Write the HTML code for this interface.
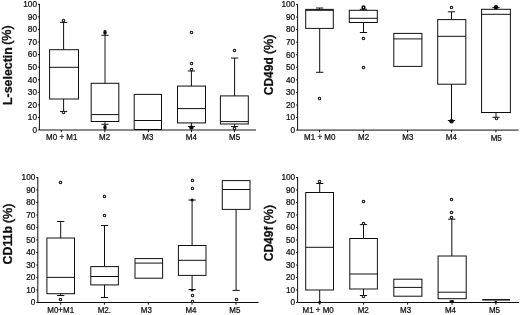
<!DOCTYPE html>
<html><head><meta charset="utf-8"><title>Box plots</title>
<style>
html,body{margin:0;padding:0;background:#fff;}
body{width:520px;height:315px;overflow:hidden;font-family:"Liberation Sans",sans-serif;}
svg{display:block;}
text{font-family:"Liberation Sans",sans-serif;fill:#111;stroke:#111;stroke-width:0.25px;}
.tk{font-size:8.9px;}
.xl{font-size:8.5px;}
.ti{font-size:12.4px;font-weight:bold;}
.ti2{font-size:12.5px;stroke-width:0.5px;}
</style></head><body>
<svg width="520" height="315" viewBox="0 0 520 315">
<defs><filter id="bl" x="0" y="0" width="520" height="315" filterUnits="userSpaceOnUse"><feGaussianBlur stdDeviation="0.35"/></filter></defs>
<rect width="520" height="315" fill="#fff"/>
<g filter="url(#bl)">
<path d="M39.4 3.8V130H256" fill="none" stroke="#111" stroke-width="1.0"/>
<path d="M37.9 130H39.4" stroke="#111" stroke-width="1.0"/>
<text transform="translate(37 132.8) scale(0.93 1)" text-anchor="end" class="tk">0</text>
<path d="M37.9 117.43H39.4" stroke="#111" stroke-width="1.0"/>
<text transform="translate(37 120.23) scale(0.93 1)" text-anchor="end" class="tk">10</text>
<path d="M37.9 104.86H39.4" stroke="#111" stroke-width="1.0"/>
<text transform="translate(37 107.66) scale(0.93 1)" text-anchor="end" class="tk">20</text>
<path d="M37.9 92.29H39.4" stroke="#111" stroke-width="1.0"/>
<text transform="translate(37 95.09) scale(0.93 1)" text-anchor="end" class="tk">30</text>
<path d="M37.9 79.72H39.4" stroke="#111" stroke-width="1.0"/>
<text transform="translate(37 82.52) scale(0.93 1)" text-anchor="end" class="tk">40</text>
<path d="M37.9 67.15H39.4" stroke="#111" stroke-width="1.0"/>
<text transform="translate(37 69.95) scale(0.93 1)" text-anchor="end" class="tk">50</text>
<path d="M37.9 54.58H39.4" stroke="#111" stroke-width="1.0"/>
<text transform="translate(37 57.38) scale(0.93 1)" text-anchor="end" class="tk">60</text>
<path d="M37.9 42.01H39.4" stroke="#111" stroke-width="1.0"/>
<text transform="translate(37 44.81) scale(0.93 1)" text-anchor="end" class="tk">70</text>
<path d="M37.9 29.44H39.4" stroke="#111" stroke-width="1.0"/>
<text transform="translate(37 32.24) scale(0.93 1)" text-anchor="end" class="tk">80</text>
<path d="M37.9 16.87H39.4" stroke="#111" stroke-width="1.0"/>
<text transform="translate(37 19.67) scale(0.93 1)" text-anchor="end" class="tk">90</text>
<path d="M37.9 4.3H39.4" stroke="#111" stroke-width="1.0"/>
<text transform="translate(37 7.1) scale(0.93 1)" text-anchor="end" class="tk">100</text>
<path d="M61.3 130V132.2" stroke="#111" stroke-width="1.0"/>
<path d="M104.8 130V132.2" stroke="#111" stroke-width="1.0"/>
<path d="M148.4 130V132.2" stroke="#111" stroke-width="1.0"/>
<path d="M191.5 130V132.2" stroke="#111" stroke-width="1.0"/>
<path d="M234.4 130V132.2" stroke="#111" stroke-width="1.0"/>
<text transform="translate(11.5 105) rotate(-90) scale(1.0 1)" class="ti">L-selectin</text>
<text transform="translate(11.0 44.8) rotate(-90) scale(1.0 1)" class="ti2">(%)</text>
<text transform="translate(61.7 139.7) scale(0.94 1)" text-anchor="middle" class="xl">M0 + M1</text>
<text transform="translate(104.6 139.7) scale(0.94 1)" text-anchor="middle" class="xl">M2</text>
<text transform="translate(147.8 139.7) scale(0.94 1)" text-anchor="middle" class="xl">M3</text>
<text transform="translate(191.4 139.7) scale(0.94 1)" text-anchor="middle" class="xl">M4</text>
<text transform="translate(234.6 139.7) scale(0.94 1)" text-anchor="middle" class="xl">M5</text>
<rect x="49.6" y="49.7" width="28.9" height="49.3" fill="#fff" stroke="#111" stroke-width="1.0"/>
<path d="M49.6 67.3H78.5" stroke="#111" stroke-width="1.0"/>
<path d="M63.6 49.7V22.4M60 22.4H67.2" stroke="#111" stroke-width="1.0" fill="none"/>
<path d="M63.6 99V111.4M60 111.4H67.2" stroke="#111" stroke-width="1.0" fill="none"/>
<circle cx="63.5" cy="20.5" r="1.25" fill="#fff" stroke="#111" stroke-width="1.05"/>
<circle cx="63.5" cy="112.5" r="1.25" fill="#fff" stroke="#111" stroke-width="1.05"/>
<rect x="91.2" y="83.3" width="27.6" height="38.2" fill="#fff" stroke="#111" stroke-width="1.0"/>
<path d="M91.2 114.6H118.8" stroke="#111" stroke-width="1.0"/>
<path d="M105 83.3V35.3M101.4 35.3H108.6" stroke="#111" stroke-width="1.0" fill="none"/>
<path d="M105 121.5V124.3M101.4 124.3H108.6" stroke="#111" stroke-width="1.0" fill="none"/>
<ellipse cx="105" cy="32.5" rx="1.7" ry="2.4" fill="#111"/>
<ellipse cx="105" cy="127.3" rx="1.6" ry="2.6" fill="#111"/>
<rect x="134.2" y="94.4" width="27.3" height="35.1" fill="#fff" stroke="#111" stroke-width="1.0"/>
<path d="M134.2 120.5H161.5" stroke="#111" stroke-width="1.0"/>
<rect x="177.5" y="86.1" width="28" height="36.8" fill="#fff" stroke="#111" stroke-width="1.0"/>
<path d="M177.5 108.6H205.5" stroke="#111" stroke-width="1.0"/>
<path d="M191.4 86.1V71M187.8 71H195" stroke="#111" stroke-width="1.0" fill="none"/>
<path d="M191.4 122.9V126.5M187.8 126.5H195" stroke="#111" stroke-width="1.0" fill="none"/>
<circle cx="191.5" cy="32.5" r="1.25" fill="#fff" stroke="#111" stroke-width="1.05"/>
<circle cx="191.5" cy="63.5" r="1.25" fill="#fff" stroke="#111" stroke-width="1.05"/>
<circle cx="191.5" cy="69.5" r="1.25" fill="#fff" stroke="#111" stroke-width="1.05"/>
<ellipse cx="191.4" cy="127.6" rx="2.2" ry="2.2" fill="#111"/>
<rect x="220.4" y="95.9" width="27.9" height="28.1" fill="#fff" stroke="#111" stroke-width="1.0"/>
<path d="M220.4 121.6H248.3" stroke="#111" stroke-width="1.0"/>
<path d="M234.6 95.9V58.1M231 58.1H238.2" stroke="#111" stroke-width="1.0" fill="none"/>
<path d="M234.6 124V126.6M231 126.6H238.2" stroke="#111" stroke-width="1.0" fill="none"/>
<circle cx="234.5" cy="50.5" r="1.25" fill="#fff" stroke="#111" stroke-width="1.05"/>
<circle cx="234.5" cy="128.5" r="1.25" fill="#fff" stroke="#111" stroke-width="1.05"/>
<path d="M297.6 4V130.1H518.5" fill="none" stroke="#111" stroke-width="1.0"/>
<path d="M296.1 130.1H297.6" stroke="#111" stroke-width="1.0"/>
<text transform="translate(295.2 132.9) scale(0.93 1)" text-anchor="end" class="tk">0</text>
<path d="M296.1 117.54H297.6" stroke="#111" stroke-width="1.0"/>
<text transform="translate(295.2 120.34) scale(0.93 1)" text-anchor="end" class="tk">10</text>
<path d="M296.1 104.98H297.6" stroke="#111" stroke-width="1.0"/>
<text transform="translate(295.2 107.78) scale(0.93 1)" text-anchor="end" class="tk">20</text>
<path d="M296.1 92.42H297.6" stroke="#111" stroke-width="1.0"/>
<text transform="translate(295.2 95.22) scale(0.93 1)" text-anchor="end" class="tk">30</text>
<path d="M296.1 79.86H297.6" stroke="#111" stroke-width="1.0"/>
<text transform="translate(295.2 82.66) scale(0.93 1)" text-anchor="end" class="tk">40</text>
<path d="M296.1 67.3H297.6" stroke="#111" stroke-width="1.0"/>
<text transform="translate(295.2 70.1) scale(0.93 1)" text-anchor="end" class="tk">50</text>
<path d="M296.1 54.74H297.6" stroke="#111" stroke-width="1.0"/>
<text transform="translate(295.2 57.54) scale(0.93 1)" text-anchor="end" class="tk">60</text>
<path d="M296.1 42.18H297.6" stroke="#111" stroke-width="1.0"/>
<text transform="translate(295.2 44.98) scale(0.93 1)" text-anchor="end" class="tk">70</text>
<path d="M296.1 29.62H297.6" stroke="#111" stroke-width="1.0"/>
<text transform="translate(295.2 32.42) scale(0.93 1)" text-anchor="end" class="tk">80</text>
<path d="M296.1 17.06H297.6" stroke="#111" stroke-width="1.0"/>
<text transform="translate(295.2 19.86) scale(0.93 1)" text-anchor="end" class="tk">90</text>
<path d="M296.1 4.5H297.6" stroke="#111" stroke-width="1.0"/>
<text transform="translate(295.2 7.3) scale(0.93 1)" text-anchor="end" class="tk">100</text>
<path d="M319.5 130.1V132.3" stroke="#111" stroke-width="1.0"/>
<path d="M363.6 130.1V132.3" stroke="#111" stroke-width="1.0"/>
<path d="M407.6 130.1V132.3" stroke="#111" stroke-width="1.0"/>
<path d="M451.5 130.1V132.3" stroke="#111" stroke-width="1.0"/>
<path d="M495.9 130.1V132.3" stroke="#111" stroke-width="1.0"/>
<text transform="translate(273.1 95.3) rotate(-90) scale(0.97 1)" class="ti">CD49d</text>
<text transform="translate(272.6 54.1) rotate(-90) scale(1.0 1)" class="ti2">(%)</text>
<text transform="translate(319.7 139.7) scale(0.94 1)" text-anchor="middle" class="xl">M1 + M0</text>
<text transform="translate(363.6 139.7) scale(0.94 1)" text-anchor="middle" class="xl">M2</text>
<text transform="translate(407.8 139.7) scale(0.94 1)" text-anchor="middle" class="xl">M3</text>
<text transform="translate(451.4 139.7) scale(0.94 1)" text-anchor="middle" class="xl">M4</text>
<text transform="translate(496.2 140.5) scale(0.94 1)" text-anchor="middle" class="xl">M5</text>
<rect x="305.7" y="9.4" width="27.6" height="19" fill="#fff" stroke="#111" stroke-width="1.0"/>
<path d="M305.7 10.3H333.3" stroke="#111" stroke-width="1.0"/>
<path d="M319.7 9.4V8M316.1 8H323.3" stroke="#111" stroke-width="1.0" fill="none"/>
<path d="M319.7 28.4V72.3M316.1 72.3H323.3" stroke="#111" stroke-width="1.0" fill="none"/>
<circle cx="319.5" cy="98.5" r="1.25" fill="#fff" stroke="#111" stroke-width="1.05"/>
<rect x="349.3" y="10.3" width="28" height="12.2" fill="#fff" stroke="#111" stroke-width="1.0"/>
<path d="M349.3 18.3H377.3" stroke="#111" stroke-width="1.0"/>
<path d="M363.5 10.3V9.3M359.9 9.3H367.1" stroke="#111" stroke-width="1.0" fill="none"/>
<path d="M363.5 22.5V32.5M359.9 32.5H367.1" stroke="#111" stroke-width="1.0" fill="none"/>
<circle cx="363.5" cy="7.5" r="1.4" fill="#fff" stroke="#111" stroke-width="1.5"/>
<circle cx="363.5" cy="38.5" r="1.25" fill="#fff" stroke="#111" stroke-width="1.05"/>
<circle cx="363.5" cy="67.5" r="1.25" fill="#fff" stroke="#111" stroke-width="1.05"/>
<rect x="393.8" y="33.4" width="28.1" height="33" fill="#fff" stroke="#111" stroke-width="1.0"/>
<path d="M393.8 38.9H421.9" stroke="#111" stroke-width="1.0"/>
<rect x="437.7" y="19.6" width="28.1" height="64.6" fill="#fff" stroke="#111" stroke-width="1.0"/>
<path d="M437.7 36.3H465.8" stroke="#111" stroke-width="1.0"/>
<path d="M451.5 19.6V11.8M447.9 11.8H455.1" stroke="#111" stroke-width="1.0" fill="none"/>
<path d="M451.5 84.2V120.5M447.9 120.5H455.1" stroke="#111" stroke-width="1.0" fill="none"/>
<circle cx="451.5" cy="7.5" r="1.25" fill="#fff" stroke="#111" stroke-width="1.05"/>
<ellipse cx="451.5" cy="121.2" rx="2.2" ry="2.2" fill="#111"/>
<rect x="481.6" y="9.3" width="28.8" height="103.2" fill="#fff" stroke="#111" stroke-width="1.0"/>
<path d="M481.6 14.3H510.4" stroke="#111" stroke-width="1.0"/>
<path d="M496 9.3V7.6M492.4 7.6H499.6" stroke="#111" stroke-width="1.0" fill="none"/>
<path d="M496 112.5V117.3M492.4 117.3H499.6" stroke="#111" stroke-width="1.0" fill="none"/>
<circle cx="496.5" cy="118.5" r="1.25" fill="#fff" stroke="#111" stroke-width="1.05"/>
<ellipse cx="496" cy="7.3" rx="2.2" ry="2.2" fill="#111"/>
<path d="M37.8 177V302.5H258.5" fill="none" stroke="#111" stroke-width="1.0"/>
<path d="M36.3 302.5H37.8" stroke="#111" stroke-width="1.0"/>
<text transform="translate(35.4 305.3) scale(0.93 1)" text-anchor="end" class="tk">0</text>
<path d="M36.3 290H37.8" stroke="#111" stroke-width="1.0"/>
<text transform="translate(35.4 292.8) scale(0.93 1)" text-anchor="end" class="tk">10</text>
<path d="M36.3 277.5H37.8" stroke="#111" stroke-width="1.0"/>
<text transform="translate(35.4 280.3) scale(0.93 1)" text-anchor="end" class="tk">20</text>
<path d="M36.3 265H37.8" stroke="#111" stroke-width="1.0"/>
<text transform="translate(35.4 267.8) scale(0.93 1)" text-anchor="end" class="tk">30</text>
<path d="M36.3 252.5H37.8" stroke="#111" stroke-width="1.0"/>
<text transform="translate(35.4 255.3) scale(0.93 1)" text-anchor="end" class="tk">40</text>
<path d="M36.3 240H37.8" stroke="#111" stroke-width="1.0"/>
<text transform="translate(35.4 242.8) scale(0.93 1)" text-anchor="end" class="tk">50</text>
<path d="M36.3 227.5H37.8" stroke="#111" stroke-width="1.0"/>
<text transform="translate(35.4 230.3) scale(0.93 1)" text-anchor="end" class="tk">60</text>
<path d="M36.3 215H37.8" stroke="#111" stroke-width="1.0"/>
<text transform="translate(35.4 217.8) scale(0.93 1)" text-anchor="end" class="tk">70</text>
<path d="M36.3 202.5H37.8" stroke="#111" stroke-width="1.0"/>
<text transform="translate(35.4 205.3) scale(0.93 1)" text-anchor="end" class="tk">80</text>
<path d="M36.3 190H37.8" stroke="#111" stroke-width="1.0"/>
<text transform="translate(35.4 192.8) scale(0.93 1)" text-anchor="end" class="tk">90</text>
<path d="M36.3 177.5H37.8" stroke="#111" stroke-width="1.0"/>
<text transform="translate(35.4 180.3) scale(0.93 1)" text-anchor="end" class="tk">100</text>
<path d="M60.7 302.5V304.7" stroke="#111" stroke-width="1.0"/>
<path d="M104.4 302.5V304.7" stroke="#111" stroke-width="1.0"/>
<path d="M148.3 302.5V304.7" stroke="#111" stroke-width="1.0"/>
<path d="M192 302.5V304.7" stroke="#111" stroke-width="1.0"/>
<path d="M235.9 302.5V304.7" stroke="#111" stroke-width="1.0"/>
<text transform="translate(12.1 264.5) rotate(-90) scale(1.0 1)" class="ti">CD11b</text>
<text transform="translate(11.6 223.1) rotate(-90) scale(1.0 1)" class="ti2">(%)</text>
<text transform="translate(60.7 312.6) scale(0.94 1)" text-anchor="middle" class="xl">M0+M1</text>
<text transform="translate(104.3 312.6) scale(0.94 1)" text-anchor="middle" class="xl">M2.</text>
<text transform="translate(146.3 312.6) scale(0.94 1)" text-anchor="middle" class="xl">M3</text>
<text transform="translate(191 312.6) scale(0.94 1)" text-anchor="middle" class="xl">M4</text>
<text transform="translate(234.9 312.6) scale(0.94 1)" text-anchor="middle" class="xl">M5</text>
<rect x="46.9" y="238" width="27.6" height="55.7" fill="#fff" stroke="#111" stroke-width="1.0"/>
<path d="M46.9 277.4H74.5" stroke="#111" stroke-width="1.0"/>
<path d="M60.7 238V221.5M57.1 221.5H64.3" stroke="#111" stroke-width="1.0" fill="none"/>
<path d="M60.7 293.7V295.5M57.1 295.5H64.3" stroke="#111" stroke-width="1.0" fill="none"/>
<circle cx="60.5" cy="182.5" r="1.25" fill="#fff" stroke="#111" stroke-width="1.05"/>
<circle cx="60.5" cy="299.5" r="1.25" fill="#fff" stroke="#111" stroke-width="1.05"/>
<rect x="90.8" y="266.6" width="27.6" height="18.3" fill="#fff" stroke="#111" stroke-width="1.0"/>
<path d="M90.8 276.5H118.4" stroke="#111" stroke-width="1.0"/>
<path d="M104.5 266.6V225.5M100.9 225.5H108.1" stroke="#111" stroke-width="1.0" fill="none"/>
<path d="M104.5 284.9V297.5M100.9 297.5H108.1" stroke="#111" stroke-width="1.0" fill="none"/>
<circle cx="104.5" cy="196.5" r="1.25" fill="#fff" stroke="#111" stroke-width="1.05"/>
<circle cx="104.5" cy="215.5" r="1.25" fill="#fff" stroke="#111" stroke-width="1.05"/>
<rect x="135" y="258.6" width="27.6" height="19.6" fill="#fff" stroke="#111" stroke-width="1.0"/>
<path d="M135 263.1H162.6" stroke="#111" stroke-width="1.0"/>
<rect x="178.4" y="245.5" width="27.6" height="29.9" fill="#fff" stroke="#111" stroke-width="1.0"/>
<path d="M178.4 260.3H206" stroke="#111" stroke-width="1.0"/>
<path d="M192.1 245.5V200M188.5 200H195.7" stroke="#111" stroke-width="1.0" fill="none"/>
<path d="M192.1 275.4V289.5M188.5 289.5H195.7" stroke="#111" stroke-width="1.0" fill="none"/>
<circle cx="192.5" cy="180.5" r="1.25" fill="#fff" stroke="#111" stroke-width="1.05"/>
<circle cx="192.5" cy="188.5" r="1.25" fill="#fff" stroke="#111" stroke-width="1.05"/>
<circle cx="192.5" cy="295.5" r="1.25" fill="#fff" stroke="#111" stroke-width="1.05"/>
<circle cx="192.5" cy="301.5" r="1.25" fill="#fff" stroke="#111" stroke-width="1.05"/>
<ellipse cx="192.1" cy="200" rx="1.5" ry="1.5" fill="#111"/>
<ellipse cx="192.1" cy="290.2" rx="1.3" ry="1.3" fill="#111"/>
<rect x="222.3" y="180.6" width="27.7" height="28.8" fill="#fff" stroke="#111" stroke-width="1.0"/>
<path d="M222.3 189.5H250" stroke="#111" stroke-width="1.0"/>
<path d="M236.1 209.4V290.4M232.5 290.4H239.7" stroke="#111" stroke-width="1.0" fill="none"/>
<circle cx="236.5" cy="299.5" r="1.25" fill="#fff" stroke="#111" stroke-width="1.05"/>
<path d="M297.6 177V302.5H519" fill="none" stroke="#111" stroke-width="1.0"/>
<path d="M296.1 302.5H297.6" stroke="#111" stroke-width="1.0"/>
<text transform="translate(295.2 305.3) scale(0.93 1)" text-anchor="end" class="tk">0</text>
<path d="M296.1 290H297.6" stroke="#111" stroke-width="1.0"/>
<text transform="translate(295.2 292.8) scale(0.93 1)" text-anchor="end" class="tk">10</text>
<path d="M296.1 277.5H297.6" stroke="#111" stroke-width="1.0"/>
<text transform="translate(295.2 280.3) scale(0.93 1)" text-anchor="end" class="tk">20</text>
<path d="M296.1 265H297.6" stroke="#111" stroke-width="1.0"/>
<text transform="translate(295.2 267.8) scale(0.93 1)" text-anchor="end" class="tk">30</text>
<path d="M296.1 252.5H297.6" stroke="#111" stroke-width="1.0"/>
<text transform="translate(295.2 255.3) scale(0.93 1)" text-anchor="end" class="tk">40</text>
<path d="M296.1 240H297.6" stroke="#111" stroke-width="1.0"/>
<text transform="translate(295.2 242.8) scale(0.93 1)" text-anchor="end" class="tk">50</text>
<path d="M296.1 227.5H297.6" stroke="#111" stroke-width="1.0"/>
<text transform="translate(295.2 230.3) scale(0.93 1)" text-anchor="end" class="tk">60</text>
<path d="M296.1 215H297.6" stroke="#111" stroke-width="1.0"/>
<text transform="translate(295.2 217.8) scale(0.93 1)" text-anchor="end" class="tk">70</text>
<path d="M296.1 202.5H297.6" stroke="#111" stroke-width="1.0"/>
<text transform="translate(295.2 205.3) scale(0.93 1)" text-anchor="end" class="tk">80</text>
<path d="M296.1 190H297.6" stroke="#111" stroke-width="1.0"/>
<text transform="translate(295.2 192.8) scale(0.93 1)" text-anchor="end" class="tk">90</text>
<path d="M296.1 177.5H297.6" stroke="#111" stroke-width="1.0"/>
<text transform="translate(295.2 180.3) scale(0.93 1)" text-anchor="end" class="tk">100</text>
<path d="M319.7 302.5V304.7" stroke="#111" stroke-width="1.0"/>
<path d="M363.6 302.5V304.7" stroke="#111" stroke-width="1.0"/>
<path d="M407.6 302.5V304.7" stroke="#111" stroke-width="1.0"/>
<path d="M452 302.5V304.7" stroke="#111" stroke-width="1.0"/>
<path d="M495.9 302.5V304.7" stroke="#111" stroke-width="1.0"/>
<text transform="translate(273.1 261.3) rotate(-90) scale(0.97 1)" class="ti">CD49f</text>
<text transform="translate(272.6 224.3) rotate(-90) scale(1.0 1)" class="ti2">(%)</text>
<text transform="translate(318.1 312.6) scale(0.94 1)" text-anchor="middle" class="xl">M1 + M0</text>
<text transform="translate(363.2 312.6) scale(0.94 1)" text-anchor="middle" class="xl">M2</text>
<text transform="translate(405.6 312.6) scale(0.94 1)" text-anchor="middle" class="xl">M3</text>
<text transform="translate(450.5 312.6) scale(0.94 1)" text-anchor="middle" class="xl">M4</text>
<text transform="translate(494.5 312.6) scale(0.94 1)" text-anchor="middle" class="xl">M5</text>
<rect x="305.7" y="192.5" width="27.8" height="97.5" fill="#fff" stroke="#111" stroke-width="1.0"/>
<path d="M305.7 247.3H333.5" stroke="#111" stroke-width="1.0"/>
<path d="M319.7 192.5V183.5M316.1 183.5H323.3" stroke="#111" stroke-width="1.0" fill="none"/>
<path d="M319.7 290V302M319.7 302H319.7" stroke="#111" stroke-width="1.0" fill="none"/>
<circle cx="319.5" cy="181.5" r="1.25" fill="#fff" stroke="#111" stroke-width="1.05"/>
<ellipse cx="319.7" cy="302.3" rx="1.5" ry="1.5" fill="#111"/>
<rect x="349.8" y="238.5" width="27.6" height="50.5" fill="#fff" stroke="#111" stroke-width="1.0"/>
<path d="M349.8 274H377.4" stroke="#111" stroke-width="1.0"/>
<path d="M363.5 238.5V224.6M359.9 224.6H367.1" stroke="#111" stroke-width="1.0" fill="none"/>
<path d="M363.5 289V295.5M359.9 295.5H367.1" stroke="#111" stroke-width="1.0" fill="none"/>
<circle cx="363.5" cy="201.5" r="1.25" fill="#fff" stroke="#111" stroke-width="1.05"/>
<circle cx="363.5" cy="223.5" r="1.25" fill="#fff" stroke="#111" stroke-width="1.05"/>
<circle cx="363.5" cy="296.5" r="1.25" fill="#fff" stroke="#111" stroke-width="1.05"/>
<rect x="393.8" y="279.2" width="28.1" height="17" fill="#fff" stroke="#111" stroke-width="1.0"/>
<path d="M393.8 287.4H421.9" stroke="#111" stroke-width="1.0"/>
<rect x="438.1" y="256" width="28.1" height="42.7" fill="#fff" stroke="#111" stroke-width="1.0"/>
<path d="M438.1 292.2H466.2" stroke="#111" stroke-width="1.0"/>
<path d="M451.8 256V219.2M448.2 219.2H455.4" stroke="#111" stroke-width="1.0" fill="none"/>
<circle cx="451.5" cy="199.5" r="1.25" fill="#fff" stroke="#111" stroke-width="1.05"/>
<circle cx="451.5" cy="212.5" r="1.25" fill="#fff" stroke="#111" stroke-width="1.05"/>
<circle cx="451.5" cy="217.5" r="1.25" fill="#fff" stroke="#111" stroke-width="1.05"/>
<ellipse cx="451.8" cy="301.3" rx="2.4" ry="1.4" fill="#111"/>
<path d="M482.2 299.8H510" stroke="#111" stroke-width="1.5"/>
<ellipse cx="495.8" cy="302.1" rx="1.3" ry="1.3" fill="#111"/>
</g>
</svg>
</body></html>
